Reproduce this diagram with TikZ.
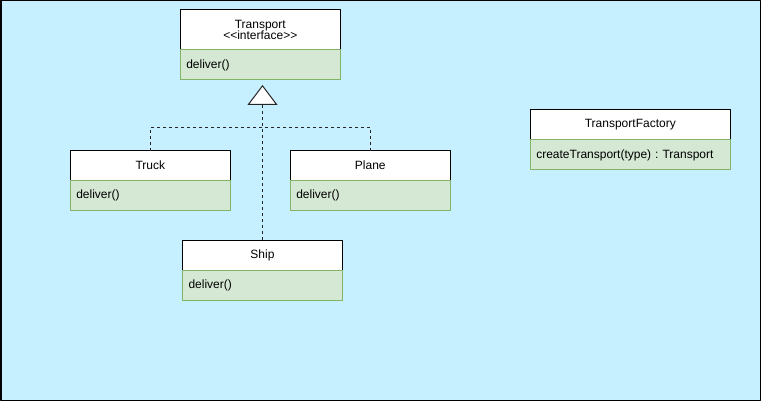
\documentclass[tikz,border=0pt]{standalone}
\usepackage{fontspec}
\setmainfont{Liberation Sans}
\usetikzlibrary{positioning,arrows.meta}
\definecolor{bgcyan}{HTML}{C6F0FF}
\definecolor{opfill}{HTML}{D5E8D4}
\definecolor{opline}{HTML}{82B366}
\begin{document}
\begin{tikzpicture}[x=1pt,y=-1pt,line width=1pt,font=\fontsize{12}{13}\selectfont\frenchspacing,line join=round,
  head/.style={draw=black,fill=white,minimum width=160pt,minimum height=30pt,inner sep=0pt,outer sep=0pt,align=center},
  ops/.style={draw=opline,fill=opfill,text width=148pt,inner xsep=6pt,inner ysep=0pt,minimum height=30pt,outer sep=0pt,align=left},
  impl/.style={draw=black!85,dash pattern=on 3pt off 3pt}]
\useasboundingbox(0,0)rectangle(761,401);
\fill[bgcyan](0,0)rectangle(761,401);
\draw[line width=1.5pt](0.75,0.75)rectangle(760.25,400.25);
% interface
\node[head,minimum height=40pt](tr)at(260.3,30){Transport\\[-2pt]\textless\kern0pt\textless interface\textgreater\kern0pt\textgreater};
\node[ops,below=0pt of tr](trm){deliver()};
% products
\node[head](truck)at(150.3,165.7){Truck};
\node[ops,below=0pt of truck](truckm){deliver()};
\node[head](plane)at(370.3,165.7){Plane};
\node[ops,below=0pt of plane](planem){deliver()};
\node[head](ship)at(262.5,255){Ship};
\node[ops,below=0pt of ship](shipm){deliver()};
% factory
\node[head,minimum width=200pt](tf)at(630.3,125){TransportFactory};
\node[ops,text width=188pt,below=0pt of tf](tfm){createTransport(type) : Transport};
% realization
\coordinate(join)at(262.5,127.3);
\draw[impl](truck.north)|-(join)-|(plane.north);
\draw[impl,-{Triangle[open,fill=white,length=20pt,width=30pt]},shorten >=5pt](ship.north)--(ship.north|-trm.south);
\end{tikzpicture}
\end{document}
